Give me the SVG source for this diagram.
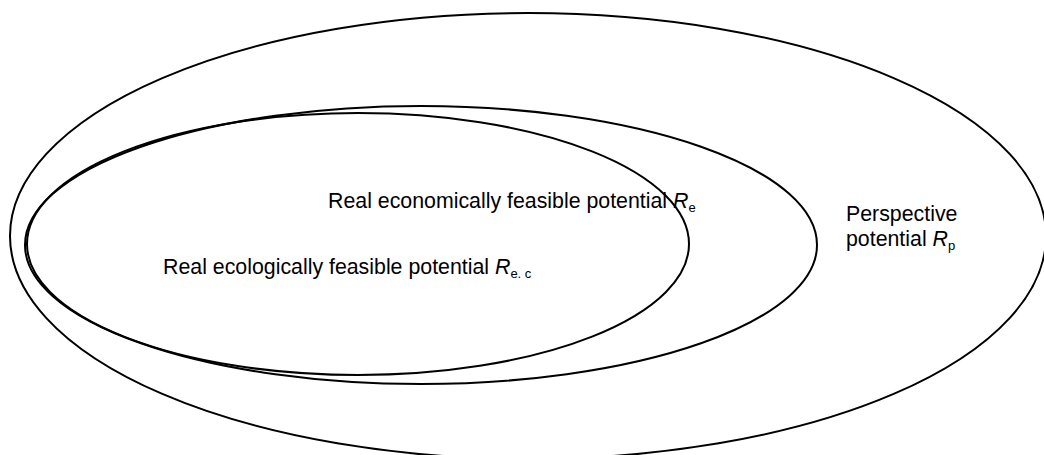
<svg xmlns="http://www.w3.org/2000/svg" width="1044" height="455" viewBox="0 0 1044 455">
<style>
.e{fill:none;stroke:#000;stroke-width:2}
.t{font-family:"Liberation Sans",Arial,sans-serif;font-size:21.33px;fill:#000}
.r{font-style:italic}
.s{font-size:13px}
</style>
<rect width="1044" height="455" fill="#fff"/>
<g id="node-perspective">
<ellipse class="e" cx="528" cy="236" rx="518" ry="223"/>
<text class="t" x="846" y="221">Perspective</text>
<text class="t" x="846" y="246">potential <tspan class="r">R</tspan><tspan class="s" dy="4">p</tspan></text>
</g>
<g id="node-economic">
<ellipse class="e" cx="421" cy="245" rx="396" ry="139"/>
<text class="t" x="328" y="208">Real economically feasible potential <tspan class="r">R</tspan><tspan class="s" dy="4">e</tspan></text>
</g>
<g id="node-ecological">
<ellipse class="e" cx="358" cy="244" rx="331" ry="131"/>
<text class="t" x="163" y="274">Real ecologically feasible potential <tspan class="r">R</tspan><tspan class="s" dy="4">e. c</tspan></text>
</g>
</svg>
